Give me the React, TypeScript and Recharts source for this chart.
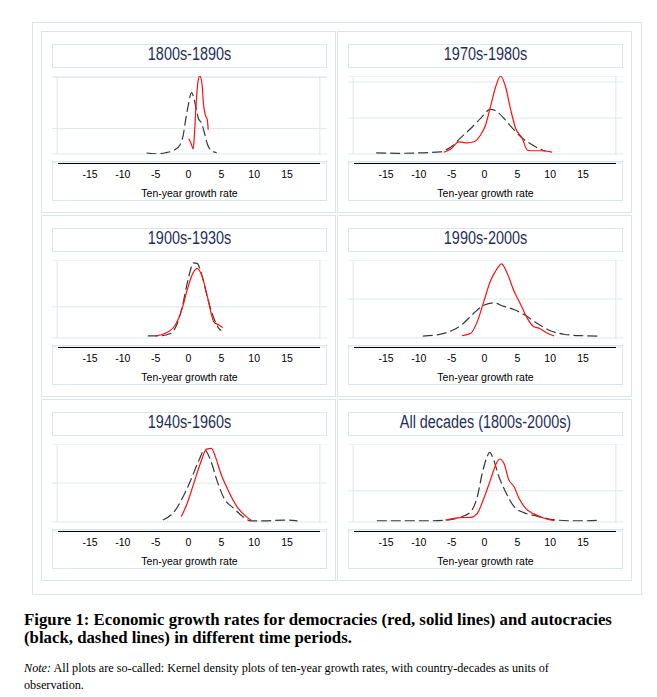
import React from 'react';
import { LineChart, Line, XAxis, YAxis, CartesianGrid, ReferenceLine } from 'recharts';

type Pt = [number, number];

// ---------- data (x = ten-year growth rate, y = kernel density) ----------
const xTicks = [-15, -10, -5, 0, 5, 10, 15];

const aut1800: Pt[] = [[-6.4, 0.008], [-5, 0.002], [-3.5, 0.01], [-2.2, 0.03], [-1.3, 0.07], [-0.8, 0.15], [-0.4, 0.28], [0, 0.39], [0.45, 0.48], [0.8, 0.44], [1.1, 0.37], [1.5, 0.28], [2, 0.24], [2.4, 0.17], [2.85, 0.08], [3.4, 0.03], [4.3, 0.01]];
const dem1800: Pt[] = [[0.05, 0.12], [0.4, 0.08], [0.7, 0.04], [0.9, 0.15], [1.1, 0.34], [1.4, 0.55], [1.7, 0.61], [2.05, 0.55], [2.3, 0.38], [2.6, 0.3], [2.85, 0.27], [3.0, 0.19]];
const yTicks1800 = [0, 0.2, 0.4, 0.6];
const yMax1800 = 0.61;

const aut1970: Pt[] = [[-16.5, 0.003], [-13, 0.002], [-10, 0.003], [-6.7, 0.006], [-5.5, 0.015], [-4.7, 0.025], [-3.7, 0.044], [-2.1, 0.071], [-0.6, 0.099], [0.9, 0.124], [1.9, 0.118], [3.2, 0.094], [4.5, 0.067], [5.75, 0.044], [7.3, 0.025], [8.8, 0.011], [9.3, 0.008]];
const dem1970: Pt[] = [[-6.2, 0.005], [-5.2, 0.013], [-3.9, 0.034], [-2.65, 0.031], [-1.6, 0.034], [-0.6, 0.053], [0.15, 0.08], [0.9, 0.131], [1.7, 0.187], [2.45, 0.217], [3.2, 0.187], [4.0, 0.122], [4.75, 0.071], [5.75, 0.044], [6.5, 0.011], [7.0, 0.009], [8.5, 0.009], [10.1, 0.006], [10.3, 0.005]];
const yTicks1970 = [0, 0.05, 0.1, 0.15, 0.2];
const yMax1970 = 0.217;

const aut1900: Pt[] = [[-6.2, 0.007], [-4.3, 0.007], [-2.7, 0.015], [-1.7, 0.047], [-0.96, 0.1], [-0.2, 0.175], [0.3, 0.218], [0.7, 0.241], [1.3, 0.239], [2.1, 0.196], [2.85, 0.132], [3.6, 0.079], [4.6, 0.031], [5.0, 0.024]];
const dem1900: Pt[] = [[-5.0, 0.007], [-3.8, 0.013], [-2.2, 0.036], [-1.5, 0.063], [-0.96, 0.095], [-0.2, 0.154], [0.55, 0.202], [1.3, 0.223], [2.1, 0.196], [2.85, 0.135], [3.85, 0.052], [4.6, 0.042], [5.2, 0.034]];
const yTicks1900 = [0, 0.05, 0.1, 0.15, 0.2, 0.25];
const yMax1900 = 0.25;

const aut1990: Pt[] = [[-9.4, 0.005], [-6.7, 0.01], [-4.7, 0.021], [-3.2, 0.038], [-1.6, 0.064], [-0.1, 0.084], [1.4, 0.09], [2.95, 0.081], [4.5, 0.073], [6.0, 0.06], [8.0, 0.038], [10.1, 0.018], [12.1, 0.0096], [14.7, 0.006], [17.5, 0.005]];
const dem1990: Pt[] = [[-3.4, 0.006], [-2.1, 0.012], [-1.1, 0.042], [-0.1, 0.094], [0.9, 0.146], [1.7, 0.172], [2.6, 0.19], [3.5, 0.164], [4.5, 0.12], [5.5, 0.086], [6.5, 0.051], [7.5, 0.029], [8.3, 0.025], [9.6, 0.012], [10.6, 0.005]];
const yTicks1990 = [0, 0.05, 0.1, 0.15, 0.2];
const yMax1990 = 0.2;

const aut1940: Pt[] = [[-3.9, 0.005], [-2.2, 0.026], [-0.7, 0.069], [0.55, 0.116], [1.6, 0.159], [2.45, 0.185], [3.35, 0.159], [4.4, 0.103], [5.4, 0.061], [6.9, 0.035], [8.2, 0.015], [9.5, 0.003], [11.5, 0.003], [14.5, 0.005], [16.6, 0.003]];
const dem1940: Pt[] = [[-1.1, 0.014], [-0.2, 0.048], [0.8, 0.099], [1.8, 0.15], [2.75, 0.187], [3.5, 0.189], [4.1, 0.167], [4.9, 0.125], [5.9, 0.086], [7.4, 0.039], [8.7, 0.015], [9.5, 0.005]];
const yTicks1940 = [0, 0.05, 0.1, 0.15, 0.2];
const yMax1940 = 0.2;

const autAll: Pt[] = [[-16.4, 0.004], [-12.3, 0.004], [-8.2, 0.004], [-5.7, 0.006], [-3.7, 0.015], [-2.1, 0.033], [-1.1, 0.081], [-0.35, 0.156], [0.3, 0.204], [0.8, 0.223], [1.3, 0.204], [2.2, 0.145], [3.2, 0.097], [4.5, 0.049], [6.0, 0.03], [8.0, 0.019], [10.1, 0.0085], [13.1, 0.004], [15.2, 0.004], [17.5, 0.006]];
const demAll: Pt[] = [[-5.95, 0.006], [-3.7, 0.014], [-2.1, 0.015], [-1.1, 0.028], [-0.1, 0.076], [0.9, 0.135], [1.7, 0.183], [2.3, 0.202], [2.95, 0.188], [3.7, 0.135], [4.5, 0.113], [5.25, 0.076], [6.25, 0.044], [7.5, 0.026], [9.1, 0.012], [10.6, 0.004]];
const yTicksAll = [0, 0.05, 0.1, 0.15, 0.2, 0.25];
const yMaxAll = 0.25;

const panelTitles = ['1800s-1890s', '1970s-1980s', '1900s-1930s', '1990s-2000s', '1940s-1960s', 'All decades (1800s-2000s)'];

// ---------- styling / layout ----------
const FRAME = '#dbe6ea';
const GRID = '#dde7eb';
const TITLE_COLOR = '#1f2d5c';
const SANS = '"Liberation Sans", Arial, Helvetica, sans-serif';
const SERIF = '"Liberation Serif", "Times New Roman", serif';

const colLefts = [41, 337];
const rowTops = [31, 215, 399];
const CELL_W = 295;
const CELL_H = 182;
const INNER_L = 11;
const INNER_W = 275;

const toRows = (pts: Pt[]) => pts.map(([x, y]) => ({ x, y }));

type PanelProps = { title: string; dem: Pt[]; aut: Pt[]; yTicks: number[]; yMax: number; left: number; top: number };

function Panel({ title, dem, aut, yTicks, yMax, left, top }: PanelProps) {
  return (
    <div style={{ position: 'absolute', left, top, width: CELL_W, height: CELL_H, border: `1px solid ${FRAME}`, boxSizing: 'border-box' }}>
      {/* title box */}
      <div style={{ position: 'absolute', left: INNER_L - 1, top: 12, width: INNER_W, height: 24, border: `1px solid ${FRAME}`, boxSizing: 'border-box' }} />
      <div style={{ position: 'absolute', left: INNER_L - 1, top: 13, width: INNER_W, height: 18, lineHeight: '18px', fontSize: 18, fontFamily: SANS, color: TITLE_COLOR, textAlign: 'center', whiteSpace: 'nowrap', transform: 'scaleX(0.8)', transformOrigin: 'center' }}>{title}</div>
      {/* axis box */}
      <div style={{ position: 'absolute', left: INNER_L - 1, top: 129, width: INNER_W, height: 40, border: `1px solid ${FRAME}`, boxSizing: 'border-box' }} />
      <div style={{ position: 'absolute', left: INNER_L - 1, top: 44 }}>
        <LineChart width={INNER_W} height={124} margin={{ top: 0, right: 0, bottom: 0, left: 0 }}>
          <CartesianGrid vertical={false} stroke={GRID} strokeWidth={1} />
          <XAxis
            type="number"
            dataKey="x"
            domain={[-20.79, 21.09]}
            ticks={xTicks}
            interval={0}
            allowDataOverflow
            tickLine={false}
            axisLine={false}
            tick={{ fontSize: 10.5, fill: '#000', fontFamily: SANS }}
            height={37}
            label={{ value: 'Ten-year growth rate', position: 'insideBottom', offset: 3, fontSize: 10.5, fill: '#000', fontFamily: SANS }}
          />
          <YAxis type="number" domain={[0, yMax]} ticks={yTicks} hide padding={{ top: 0, bottom: 9 }} allowDataOverflow />
          <ReferenceLine segment={[{ x: -20, y: 0 }, { x: -20, y: yMax }]} stroke={GRID} />
          <ReferenceLine segment={[{ x: 20, y: 0 }, { x: 20, y: yMax }]} stroke={GRID} />
          <Line data={toRows(aut)} dataKey="y" type="monotone" stroke="#383838" strokeWidth={1.2} strokeDasharray="10 4" dot={false} activeDot={false} isAnimationActive={false} />
          <Line data={toRows(dem)} dataKey="y" type="monotone" stroke="#ff1010" strokeWidth={1.2} dot={false} activeDot={false} isAnimationActive={false} />
        </LineChart>
      </div>
      {/* x axis line from -20 to 20 */}
      <div style={{ position: 'absolute', left: 16, top: 131, width: 262, height: 0, borderTop: '1px solid #000' }} />
    </div>
  );
}

export default function App() {
  const panels = [
    { dem: dem1800, aut: aut1800, yTicks: yTicks1800, yMax: yMax1800 },
    { dem: dem1970, aut: aut1970, yTicks: yTicks1970, yMax: yMax1970 },
    { dem: dem1900, aut: aut1900, yTicks: yTicks1900, yMax: yMax1900 },
    { dem: dem1990, aut: aut1990, yTicks: yTicks1990, yMax: yMax1990 },
    { dem: dem1940, aut: aut1940, yTicks: yTicks1940, yMax: yMax1940 },
    { dem: demAll, aut: autAll, yTicks: yTicksAll, yMax: yMaxAll },
  ];
  return (
    <div style={{ position: 'absolute', left: 0, top: 0, width: 657, height: 697, background: '#fff', overflow: 'hidden' }}>
      <div style={{ position: 'absolute', left: 32, top: 22, width: 610, height: 573, border: `1px solid ${FRAME}`, boxSizing: 'border-box' }} />
      {panels.map((p, i) => (
        <Panel key={i} title={panelTitles[i]} {...p} left={colLefts[i % 2]} top={rowTops[Math.floor(i / 2)]} />
      ))}
      <div style={{ position: 'absolute', left: 24, top: 611, fontFamily: SERIF, fontWeight: 'bold', fontSize: 16.8, lineHeight: '18px', color: '#000', whiteSpace: 'nowrap' }}>
        <div>Figure 1: Economic growth rates for democracies (red, solid lines) and autocracies</div>
        <div>(black, dashed lines) in different time periods.</div>
      </div>
      <div style={{ position: 'absolute', left: 24, top: 660, fontFamily: SERIF, fontSize: 12.2, lineHeight: '17px', color: '#000', whiteSpace: 'nowrap' }}>
        <div><i>Note:</i> All plots are so-called: Kernel density plots of ten-year growth rates, with country-decades as units of</div>
        <div>observation.</div>
      </div>
    </div>
  );
}
